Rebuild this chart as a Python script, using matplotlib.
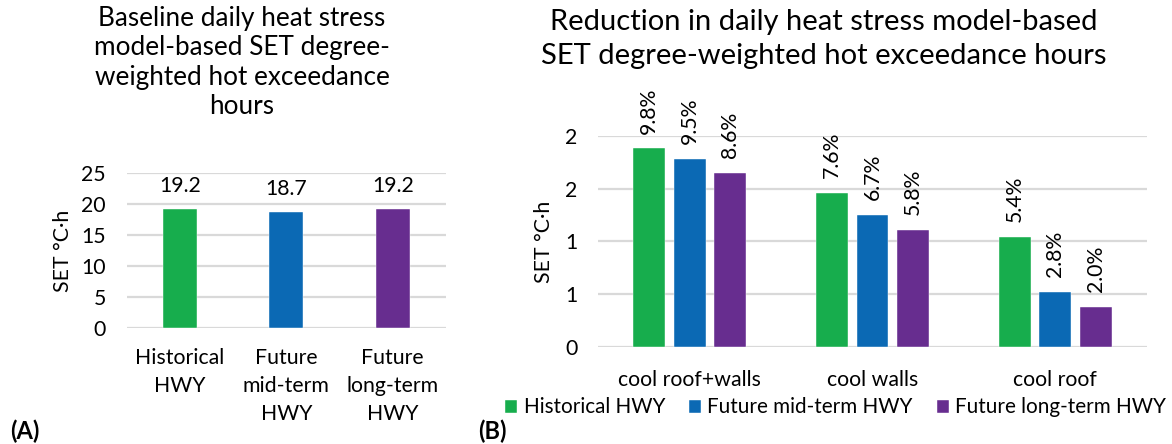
import matplotlib
matplotlib.use("Agg")
import matplotlib.pyplot as plt
from matplotlib.ticker import FuncFormatter
import numpy as np

plt.rcParams['font.family'] = ['Lato', 'DejaVu Sans']

# data
periods = ['Historical HWY', 'Future mid-term HWY', 'Future long-term HWY']
baseline_labels = ['Historical\nHWY', 'Future\nmid-term\nHWY', 'Future\nlong-term\nHWY']
baseline = [19.2, 18.7, 19.2]

measures = ['cool roof+walls', 'cool walls', 'cool roof']
reduction_hist = [1.88, 1.46, 1.04]
reduction_mid = [1.78, 1.25, 0.52]
reduction_long = [1.65, 1.11, 0.38]
pct_hist = ['9.8%', '7.6%', '5.4%']
pct_mid = ['9.5%', '6.7%', '2.8%']
pct_long = ['8.6%', '5.8%', '2.0%']

colors = ['#17ad4d', '#0b69b4', '#672d8f']
grid_col = '#d9d9d9'
fs = 15.3
W, H = 1172, 444


def style_axis(ax):
    for s in ax.spines.values():
        s.set_visible(False)
    ax.tick_params(length=0, labelsize=fs)
    ax.tick_params(axis='y', pad=15)
    ax.tick_params(axis='x', pad=14)
    ax.yaxis.grid(True, color=grid_col, linewidth=1.6)
    ax.set_axisbelow(True)


fig = plt.figure(figsize=(11.72, 4.44), dpi=100)

# panel A
ax1 = fig.add_axes([0.1081, 0.2606, 0.2724, 0.3505])
style_axis(ax1)
x1 = np.arange(len(baseline))
bars = ax1.bar(x1, baseline, width=0.32, color=colors, edgecolor='#ffffff', linewidth=0.3)
for b, v in zip(bars, baseline):
    ax1.text(b.get_x() + b.get_width() / 2, v + 2.0, f'{v:.1f}', ha='center', va='bottom', fontsize=fs)
ax1.set_xlim(-0.5, 2.5)
ax1.set_ylim(0, 25)
ax1.set_yticks([0, 5, 10, 15, 20, 25])
ax1.set_xticks(x1)
ax1.set_xticklabels(baseline_labels, fontsize=fs, linespacing=1.5)
ax1.set_ylabel('SET °C·h', fontsize=fs, labelpad=6)
fig.text(242 / W, 1 - 6 / H, 'Baseline daily heat stress\nmodel-based SET degree-\nweighted hot exceedance\nhours',
         ha='center', va='top', fontsize=18.8, linespacing=1.22)

# panel B
ax2 = fig.add_axes([0.5105, 0.2178, 0.4679, 0.4766])
style_axis(ax2)
x2 = np.arange(len(measures))
w = 0.175
step = 0.2215
series = [reduction_hist, reduction_mid, reduction_long]
pcts = [pct_hist, pct_mid, pct_long]
for i, (vals, labs) in enumerate(zip(series, pcts)):
    pos = x2 + (i - 1) * step
    bb = ax2.bar(pos, vals, width=w, color=colors[i], edgecolor='#ffffff', linewidth=0.3, label=periods[i])
    for b, v, t in zip(bb, vals, labs):
        ax2.text(b.get_x() + b.get_width() / 2, v + 0.14, t, ha='center', va='bottom',
                 rotation=90, fontsize=fs)
ax2.set_xlim(-0.5, 2.5)
ax2.set_ylim(0, 2.0)
ax2.set_yticks([0, 0.5, 1.0, 1.5, 2.0])
# axis shows whole numbers only, so 0.5 -> 1 and 1.5 -> 2
ax2.yaxis.set_major_formatter(FuncFormatter(lambda v, p: str(int(np.floor(v + 0.5)))))
ax2.set_xticks(x2)
ax2.set_xticklabels(measures, fontsize=fs)
ax2.tick_params(axis='x', pad=16)
ax2.set_ylabel('SET °C·h', fontsize=fs, labelpad=8)
fig.text(824 / W, 1 - 9 / H, 'Reduction in daily heat stress model-based\nSET degree-weighted hot exceedance hours',
         ha='center', va='top', fontsize=21, linespacing=1.4)
ax2.legend(loc='center left', bbox_to_anchor=((505 - 598.3) / 548.3, (347.3 - 407.5) / 211.6), ncol=3,
           frameon=False, fontsize=14.9, handlelength=0.6, handleheight=0.6, handletextpad=0.3,
           columnspacing=1.15, borderaxespad=0, borderpad=0)

fig.text(10 / W, 1 - 431 / H, '(A)', fontsize=17, fontweight='bold', va='center')
fig.text(478 / W, 1 - 431 / H, '(B)', fontsize=17, fontweight='bold', va='center')

fig.savefig('out.png', dpi=100)
